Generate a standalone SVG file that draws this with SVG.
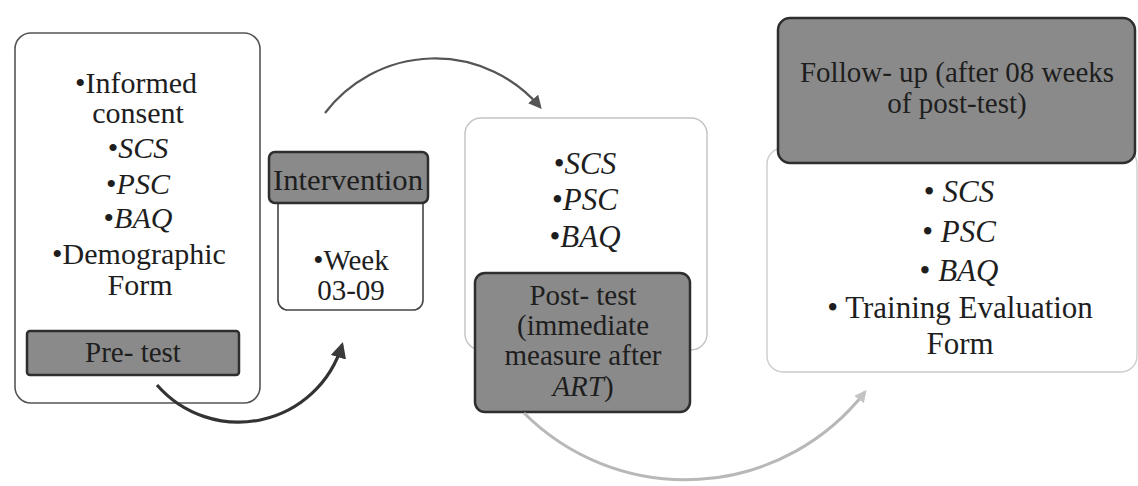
<svg xmlns="http://www.w3.org/2000/svg" width="1138" height="486" viewBox="0 0 1138 486">
<style>
.t{font-family:"Liberation Serif","Times New Roman",serif;font-size:29px;fill:#1e1e1e;text-anchor:middle}
.f30{font-size:30px}
.f31{font-size:31px}
.i{font-style:italic}
.wbox{fill:#ffffff}
.dark{fill:#8a8a8a;stroke:#2e2e2e;stroke-width:2.5}
.conn{fill:none}
</style>
<defs>
<marker id="ah" viewBox="0 0 10 10" refX="8" refY="5" markerWidth="5" markerHeight="5" orient="auto" markerUnits="strokeWidth">
<path d="M0,0 L10,5 L0,10 z" fill="#3a3a3a"/>
</marker>
<marker id="ah1" viewBox="0 0 10 10" refX="8" refY="5" markerWidth="6" markerHeight="6" orient="auto" markerUnits="strokeWidth">
<path d="M0,0 L10,5 L0,10 z" fill="#555"/>
</marker>
<marker id="ah3" viewBox="0 0 10 10" refX="8" refY="5" markerWidth="4" markerHeight="4" orient="auto" markerUnits="strokeWidth">
<path d="M0,0 L10,5 L0,10 z" fill="#c4c4c4"/>
</marker>
</defs>
<rect width="1138" height="486" fill="#ffffff"/>

<g id="pretest">
<rect class="wbox" x="15" y="33" width="245" height="370" rx="16" stroke="#555" stroke-width="1.6"/>
<text class="t f30" x="136" y="93">•Informed</text>
<text class="t f30" x="138" y="123">consent</text>
<text class="t f30" x="138" y="158"><tspan>•</tspan><tspan class="i">SCS</tspan></text>
<text class="t f30" x="138" y="194"><tspan>•</tspan><tspan class="i">PSC</tspan></text>
<text class="t f30" x="138" y="228"><tspan>•</tspan><tspan class="i">BAQ</tspan></text>
<text class="t f30" x="139" y="264">•Demographic</text>
<text class="t f30" x="140" y="295">Form</text>
<rect class="dark" x="27" y="331" width="212" height="44" rx="3"/>
<text class="t" x="133" y="362">Pre- test</text>
</g>

<g id="intervention">
<rect class="wbox" x="278" y="190" width="145" height="120" rx="10" stroke="#444" stroke-width="1.6"/>
<rect class="dark" x="269" y="152" width="159" height="51" rx="6"/>
<text class="t" x="348" y="190" textLength="150" lengthAdjust="spacingAndGlyphs">Intervention</text>
<text class="t" x="351" y="270">•Week</text>
<text class="t" x="351" y="300">03-09</text>
</g>

<g id="posttest">
<rect class="wbox" x="465" y="118" width="242" height="232" rx="16" stroke="#c2c2c2" stroke-width="1.4"/>
<text class="t f31" x="585" y="174"><tspan>•</tspan><tspan class="i">SCS</tspan></text>
<text class="t f31" x="585" y="210"><tspan>•</tspan><tspan class="i">PSC</tspan></text>
<text class="t f31" x="585" y="247"><tspan>•</tspan><tspan class="i">BAQ</tspan></text>
<rect class="dark" x="475" y="273" width="215" height="139" rx="10"/>
<text class="t" x="583" y="305">Post- test</text>
<text class="t" x="583" y="335">(immediate</text>
<text class="t" x="583" y="365">measure after</text>
<text class="t" x="583" y="396"><tspan class="i">ART</tspan>)</text>
</g>

<g id="followup">
<rect class="wbox" x="767" y="148" width="370" height="224" rx="16" stroke="#cccccc" stroke-width="1.4"/>
<rect class="dark" x="778" y="18" width="357" height="145" rx="12"/>
<text class="t" x="957" y="82">Follow- up (after 08 weeks</text>
<text class="t" x="957" y="113">of post-test)</text>
<text class="t f31" x="959" y="202">• <tspan class="i">SCS</tspan></text>
<text class="t f31" x="959" y="242">• <tspan class="i">PSC</tspan></text>
<text class="t f31" x="959" y="281">• <tspan class="i">BAQ</tspan></text>
<text class="t f31" x="960" y="318">• Training Evaluation</text>
<text class="t f31" x="960" y="354">Form</text>
</g>

<g id="connectors">
<path class="conn" d="M325,113 A138,138 0 0 1 540,107" stroke="#555" stroke-width="2.2" marker-end="url(#ah1)"/>
<path class="conn" d="M157,385 A108,108 0 0 0 342,345" stroke="#333" stroke-width="3.2" marker-end="url(#ah)"/>
<path class="conn" d="M524,413 A228,228 0 0 0 865,392" stroke="#b8b8b8" stroke-width="3" marker-end="url(#ah3)"/>
</g>
</svg>
